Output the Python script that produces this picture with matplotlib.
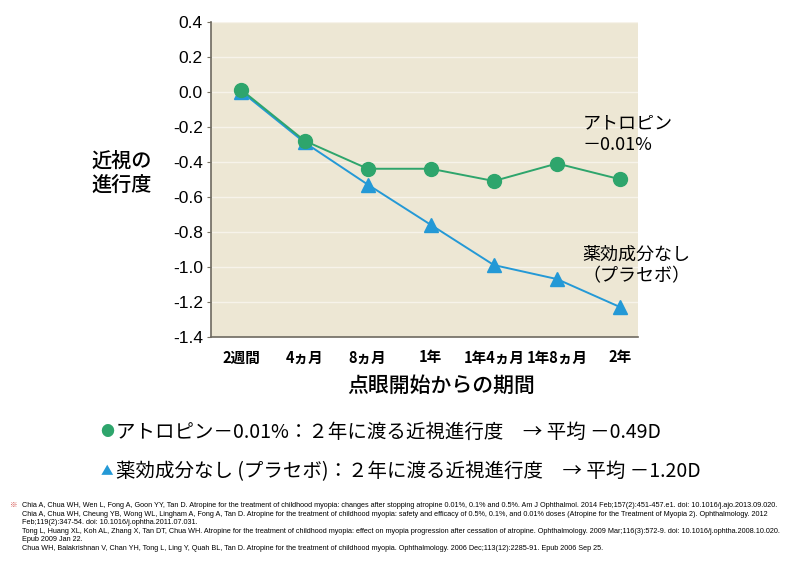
import matplotlib.pyplot as plt

plt.rcParams['font.family'] = ['Noto Sans CJK JP', 'DejaVu Sans']

# ---- data ----
periods = ['2週間', '4ヵ月', '8ヵ月', '1年', '1年4ヵ月', '1年8ヵ月', '2年']
atropine = [0.01, -0.28, -0.44, -0.44, -0.51, -0.41, -0.50]
placebo = [0.0, -0.29, -0.53, -0.76, -0.99, -1.07, -1.23]
yticks = [0.4, 0.2, 0.0, -0.2, -0.4, -0.6, -0.8, -1.0, -1.2, -1.4]

legend_lines = [
    'アトロピン－0.01%：２年に渡る近視進行度　→ 平均 －0.49D',
    '薬効成分なし (プラセボ)：２年に渡る近視進行度　→ 平均 －1.20D',
]
refs = [
    'Chia A, Chua WH, Wen L, Fong A, Goon YY, Tan D. Atropine for the treatment of childhood myopia: changes after stopping atropine 0.01%, 0.1% and 0.5%. Am J Ophthalmol. 2014 Feb;157(2):451-457.e1. doi: 10.1016/j.ajo.2013.09.020.',
    'Chia A, Chua WH, Cheung YB, Wong WL, Lingham A, Fong A, Tan D. Atropine for the treatment of childhood myopia: safety and efficacy of 0.5%, 0.1%, and 0.01% doses (Atropine for the Treatment of Myopia 2). Ophthalmology. 2012',
    'Feb;119(2):347-54. doi: 10.1016/j.ophtha.2011.07.031.',
    'Tong L, Huang XL, Koh AL, Zhang X, Tan DT, Chua WH. Atropine for the treatment of childhood myopia: effect on myopia progression after cessation of atropine. Ophthalmology. 2009 Mar;116(3):572-9. doi: 10.1016/j.ophtha.2008.10.020.',
    'Epub 2009 Jan 22.',
    'Chua WH, Balakrishnan V, Chan YH, Tong L, Ling Y, Quah BL, Tan D. Atropine for the treatment of childhood myopia. Ophthalmology. 2006 Dec;113(12):2285-91. Epub 2006 Sep 25.',
]

GREEN = '#2ea56c'
BLUE = '#2499d6'
BG = '#ede7d4'

fig = plt.figure(figsize=(8, 5.7), dpi=100)
ax = fig.add_axes([0.264, 0.409, 0.534, 0.553])
ax.set_facecolor(BG)

x = list(range(len(periods)))
ax.plot(x, placebo, color=BLUE, lw=1.4, marker='^', ms=10, zorder=3)
ax.plot(x, atropine, color=GREEN, lw=1.4, marker='o', ms=10, zorder=4)

ax.set_xlim(-0.48, 6.29)
ax.set_ylim(-1.4, 0.4)
ax.set_yticks(yticks)
ax.set_yticklabels([f'{v:.1f}' for v in yticks], fontsize=12.5, family=['Liberation Sans', 'DejaVu Sans'])
ax.set_xticks(x)
ax.set_xticklabels(periods, fontsize=10.5, fontweight='bold')
ax.tick_params(axis='x', length=0, pad=9)
ax.tick_params(axis='y', length=3, color='#777060', pad=3)
ax.grid(axis='y', color='#f7f3ea', lw=1)
ax.set_axisbelow(True)
for s in ['top', 'right']:
    ax.spines[s].set_visible(False)
for s in ['left', 'bottom']:
    ax.spines[s].set_color('#6e6a60')
    ax.spines[s].set_linewidth(1.2)

fig.text(441 / 800, 1 - 386 / 570, '点眼開始からの期間', fontsize=15, fontweight='medium', ha='center', va='center')
fig.text(0.114, 0.696, '近視の\n進行度', fontsize=14.5, fontweight='medium', ha='left', va='center', linespacing=1.3)

# series labels to the right
fig.text(0.728, 0.765, 'アトロピン\n－0.01%', fontsize=13, ha='left', va='center', linespacing=1.25)
fig.text(0.728, 0.535, '薬効成分なし\n（プラセボ）', fontsize=13, ha='left', va='center', linespacing=1.25)

# legend rows
fig.text(0.134, 0.242, '●', color=GREEN, fontsize=10, ha='center', va='center')
fig.text(0.145, 0.242, legend_lines[0], fontsize=14, ha='left', va='center')
fig.text(0.134, 0.172, '▲', color=BLUE, fontsize=9, ha='center', va='center')
fig.text(0.145, 0.172, legend_lines[1], fontsize=14, ha='left', va='center')

# references
fig.text(0.013, 0.114, '※', color='#d0403a', fontsize=5.5, ha='left', va='center')
ref_y = [0.114, 0.098, 0.084, 0.068, 0.053, 0.037]
for yy, line in zip(ref_y, refs):
    fig.text(0.028, yy, line, fontsize=5.2, ha='left', va='center', family=['Liberation Sans', 'DejaVu Sans'])

fig.savefig('out.png', dpi=100, facecolor='white')
